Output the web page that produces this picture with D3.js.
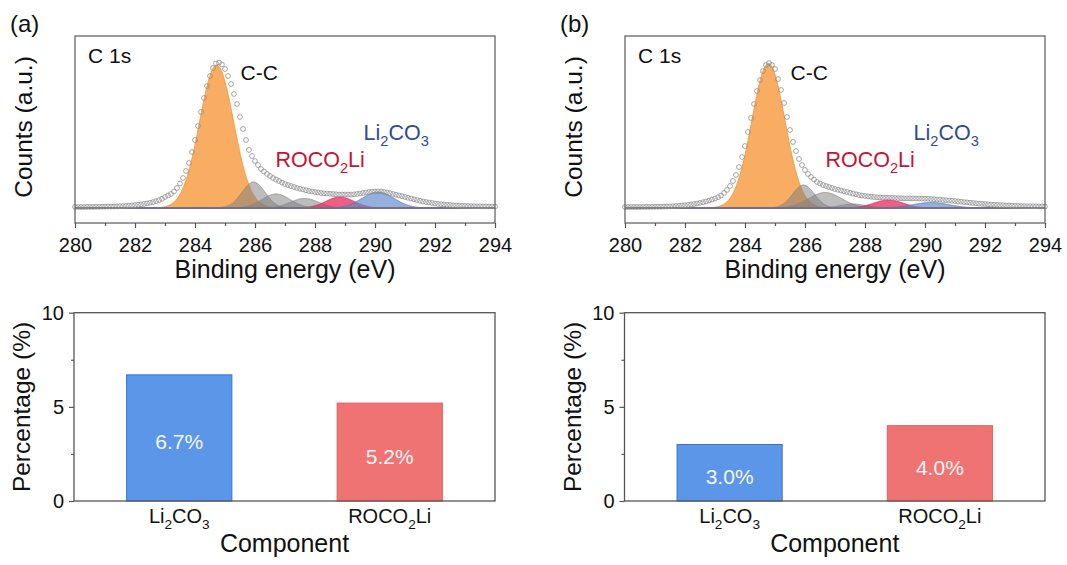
<!DOCTYPE html>
<meta charset="utf-8">
<style>
  body { margin: 0; background: #fff; }
  svg { font-family: "Liberation Sans", Arial, sans-serif; }
</style>
<body>
<div id="chart"></div>
<script src="https://cdn.jsdelivr.net/npm/d3@7"></script>
<script>
  // measured points: binding energy (eV)
  const energy = [
    280.0, 280.1, 280.2, 280.3, 280.4, 280.5, 280.6, 280.7, 280.8, 280.9,
    281.0, 281.1, 281.2, 281.3, 281.4, 281.5, 281.6, 281.7, 281.8, 281.9,
    282.0, 282.1, 282.2, 282.3, 282.4, 282.5, 282.6, 282.7, 282.8, 282.9,
    283.0, 283.1, 283.2, 283.3, 283.4, 283.5, 283.6, 283.7, 283.8, 283.9,
    284.0, 284.1, 284.2, 284.3, 284.4, 284.5, 284.6, 284.7, 284.8, 284.9,
    285.0, 285.1, 285.2, 285.3, 285.4, 285.5, 285.6, 285.7, 285.8, 285.9,
    286.0, 286.1, 286.2, 286.3, 286.4, 286.5, 286.6, 286.7, 286.8, 286.9,
    287.0, 287.1, 287.2, 287.3, 287.4, 287.5, 287.6, 287.7, 287.8, 287.9,
    288.0, 288.1, 288.2, 288.3, 288.4, 288.5, 288.6, 288.7, 288.8, 288.9,
    289.0, 289.1, 289.2, 289.3, 289.4, 289.5, 289.6, 289.7, 289.8, 289.9,
    290.0, 290.1, 290.2, 290.3, 290.4, 290.5, 290.6, 290.7, 290.8, 290.9,
    291.0, 291.1, 291.2, 291.3, 291.4, 291.5, 291.6, 291.7, 291.8, 291.9,
    292.0, 292.1, 292.2, 292.3, 292.4, 292.5, 292.6, 292.7, 292.8, 292.9,
    293.0, 293.1, 293.2, 293.3, 293.4, 293.5, 293.6, 293.7, 293.8, 293.9,
    294.0];

  // counts (a.u.) panel (a)
  const countsA = [
    1.0, 1.0, 1.0, 1.0, 1.1, 1.1, 1.1, 1.2, 1.2, 1.3,
    1.3, 1.4, 1.4, 1.5, 1.6, 1.8, 1.9, 2.1, 2.3, 2.6,
    2.9, 3.2, 3.6, 4.1, 4.6, 5.2, 5.9, 6.8, 7.8, 9.2,
    11.0, 12.5, 14.0, 16.5, 20, 24.5, 30, 37, 45, 56,
    68, 82, 96, 110, 122, 132, 140, 144.5, 145.5, 143.5,
    139, 132, 124, 114, 104, 91, 79, 68, 58, 52,
    47, 43, 39, 36.5, 34, 32, 30, 28.5, 27, 25.5,
    24, 23, 22, 21, 20, 19.2, 18.5, 17.7, 17, 16.5,
    16, 15.5, 15, 14.7, 14.5, 14.2, 14, 13.7, 13.5, 13.5,
    13.5, 13.5, 13.5, 13.7, 14, 14.5, 15, 15.5, 16, 16.3,
    16.5, 16.6, 16.5, 16, 15.5, 14.8, 14, 13.3, 12.5, 11.8,
    11, 10.2, 9.5, 8.7, 8, 7.2, 6.5, 6, 5.5, 5,
    4.5, 4.1, 3.8, 3.5, 3.2, 3.0, 2.8, 2.6, 2.4, 2.2,
    2.1, 2.0, 1.9, 1.8, 1.7, 1.7, 1.6, 1.6, 1.5, 1.5,
    1.5];

  // counts (a.u.) panel (b)
  const countsB = [
    1.0, 1.0, 1.0, 1.0, 1.0, 1.0, 1.1, 1.1, 1.1, 1.2,
    1.2, 1.3, 1.3, 1.4, 1.5, 1.6, 1.8, 2.0, 2.2, 2.5,
    2.8, 3.1, 3.5, 4.0, 4.5, 5.1, 5.8, 6.6, 7.5, 8.4,
    9.5, 10.8, 12.5, 15, 18, 22, 27, 33, 41, 51,
    62, 76, 90, 104, 117, 128, 137, 143, 145, 143,
    139, 129, 118, 105, 91, 78, 66, 57, 49, 43,
    38, 34, 31, 28.5, 26, 24.5, 23, 22, 21, 20,
    19, 18.2, 17.5, 16.7, 16, 15.2, 14.5, 13.7, 13, 12.5,
    12, 11.6, 11.3, 11, 10.8, 10.6, 10.4, 10.3, 10.2, 10.1,
    10, 9.9, 9.8, 9.7, 9.7, 9.6, 9.6, 9.5, 9.5, 9.4,
    9.3, 9.2, 9.0, 8.8, 8.5, 8.3, 8.0, 7.8, 7.5, 7.3,
    7.0, 6.6, 6.3, 5.9, 5.6, 5.3, 5.0, 4.7, 4.4, 4.2,
    4.0, 3.7, 3.5, 3.3, 3.1, 2.9, 2.8, 2.6, 2.5, 2.3,
    2.2, 2.1, 2.0, 1.9, 1.8, 1.8, 1.7, 1.7, 1.6, 1.6,
    1.5];

  // fitted components: centre (eV), height (a.u.), FWHM (eV)
  const components = ['C-C', 'C-O', 'C=O', 'O-C=O', 'ROCO2Li', 'Li2CO3'];
  const centerA = [284.72, 285.95, 286.7, 287.65, 288.83, 290.1];
  const heightA = [143, 26, 14, 9.5, 11, 16];
  const fwhmA = [1.33, 0.9, 1.1, 1.1, 1.1, 1.25];
  const centerB = [284.78, 285.95, 286.67, 287.6, 288.78, 290.2];
  const heightB = [144.5, 23, 15.5, 4, 8, 5.5];
  const fwhmB = [1.3, 0.85, 1.3, 1.0, 1.15, 1.4];

  const energyTicks = [280, 282, 284, 286, 288, 290, 292, 294];
  const energyMinorTicks = [281, 283, 285, 287, 289, 291, 293];

  // component percentages
  const categories = ['Li2CO3', 'ROCO2Li'];
  const percentA = [6.7, 5.2];
  const percentB = [3.0, 4.0];
  const percentTicks = [0, 5, 10];
  const percentMinorTicks = [2.5, 7.5];

  const compStyle = {
    'C-C': { fill: '#f7a24c', stroke: '#f0922f', op: 0.88 },
    'C-O': { fill: '#7c7c7c', stroke: '#8a8a8a', op: 0.5 },
    'C=O': { fill: '#7c7c7c', stroke: '#8a8a8a', op: 0.5 },
    'O-C=O': { fill: '#7c7c7c', stroke: '#8a8a8a', op: 0.5 },
    'ROCO2Li': { fill: '#ea2a5c', stroke: '#e0245a', op: 0.75 },
    'Li2CO3': { fill: '#5b86cc', stroke: '#4d78c4', op: 0.65 }
  };
  const barStyle = {
    'Li2CO3': { fill: '#5b96e8', stroke: '#3d6fd6' },
    'ROCO2Li': { fill: '#f07373', stroke: '#e06262' }
  };
  // chemical names with subscripts
  const chemParts = {
    'Li2CO3': [['Li'], ['2', 1], ['CO'], ['3', 1]],
    'ROCO2Li': [['ROCO'], ['2', 1], ['Li']]
  };

  const svg = d3.select('#chart').append('svg')
      .attr('width', 1067)
      .attr('height', 565);

  function chem(sel, name, size) {
    const drop = size * 0.28;
    let down = false;
    chemParts[name].forEach(p => {
      const t = sel.append('tspan').text(p[0]);
      if (p[1]) {
        t.attr('font-size', size * 0.68).attr('dy', drop);
        down = true;
      } else if (down) {
        t.attr('dy', -drop);
        down = false;
      }
    });
  }

  function gauss(c, h, w, e) {
    return h * Math.exp(-4 * Math.LN2 * (e - c) * (e - c) / (w * w));
  }

  function styleAxis(g, size) {
    g.select('.domain').remove();
    g.selectAll('line').attr('stroke', '#555').attr('stroke-width', 1.2);
    g.selectAll('text').attr('font-size', size).attr('fill', '#111')
        .attr('font-family', '"Liberation Sans", Arial, sans-serif');
  }

  function drawSpectrum(left, tag, counts, center, height, fwhm) {
    const top = 36, bottom = 223, width = 420;
    const x = d3.scaleLinear().domain([280, 294]).range([left, left + width]);
    const y = d3.scaleLinear().domain([-15, 172]).range([bottom, top]);
    const g = svg.append('g');

    // fitted components
    components.forEach((k, i) => {
      const lo = Math.max(280, center[i] - 2.6 * fwhm[i]);
      const hi = Math.min(294, center[i] + 2.6 * fwhm[i]);
      const es = d3.range(lo, hi, 0.01);
      const st = compStyle[k];
      g.append('path').datum(es)
          .attr('d', d3.area().x(e => x(e)).y0(y(0))
              .y1(e => y(gauss(center[i], height[i], fwhm[i], e))))
          .attr('fill', st.fill).attr('fill-opacity', st.op);
      g.append('path').datum(es)
          .attr('d', d3.line().x(e => x(e))
              .y(e => y(gauss(center[i], height[i], fwhm[i], e))))
          .attr('fill', 'none').attr('stroke', st.stroke)
          .attr('stroke-width', 1).attr('stroke-opacity', 0.8);
    });

    // background line
    g.append('line')
        .attr('x1', x(280)).attr('x2', x(294))
        .attr('y1', y(0)).attr('y2', y(0))
        .attr('stroke', '#7a6e84').attr('stroke-width', 1.8);

    // measured points
    g.selectAll('circle.pt').data(energy).enter().append('circle')
        .attr('class', 'pt')
        .attr('cx', e => x(e))
        .attr('cy', (e, i) => y(counts[i]))
        .attr('r', 2.4)
        .attr('fill', 'none')
        .attr('stroke', '#8e8e8e')
        .attr('stroke-width', 0.8);

    // frame
    g.append('rect')
        .attr('x', left).attr('y', top)
        .attr('width', width).attr('height', bottom - top)
        .attr('fill', 'none').attr('stroke', '#666').attr('stroke-width', 1.3);

    const ax = g.append('g').attr('transform', `translate(0,${bottom})`)
        .call(d3.axisBottom(x).tickValues(energyTicks).tickSize(5).tickPadding(10).tickSizeOuter(0));
    styleAxis(ax, 20);
    const axm = g.append('g').attr('transform', `translate(0,${bottom})`)
        .call(d3.axisBottom(x).tickValues(energyMinorTicks).tickSize(3).tickFormat('').tickSizeOuter(0));
    styleAxis(axm, 20);

    g.append('text').attr('x', left + width / 2).attr('y', 278)
        .attr('text-anchor', 'middle').attr('font-size', 25).attr('fill', '#111')
        .text('Binding energy (eV)');
    g.append('text')
        .attr('transform', `translate(${left - 43},127) rotate(-90)`)
        .attr('text-anchor', 'middle').attr('font-size', 24.5).attr('fill', '#111')
        .text('Counts (a.u.)');
    g.append('text').attr('x', left - 65).attr('y', 32)
        .attr('font-size', 24).attr('fill', '#111').text(tag);

    // annotations
    g.append('text').attr('x', left + 13).attr('y', 63)
        .attr('font-size', 21).attr('fill', '#111').text('C 1s');
    g.append('text').attr('x', x(285.52)).attr('y', y(128))
        .attr('font-size', 21).attr('fill', '#111').text('C-C');
    chem(g.append('text').attr('x', x(286.68)).attr('y', y(41.3))
        .attr('font-size', 21.5).attr('fill', '#c41433'), 'ROCO2Li', 21.5);
    chem(g.append('text').attr('x', x(289.62)).attr('y', y(68))
        .attr('font-size', 21.5).attr('fill', '#2f4c8c'), 'Li2CO3', 21.5);
  }

  function drawBars(left, right, tag, values) {
    const top = 312.7, bottom = 501;
    const x = d3.scaleBand().domain(categories).range([left, right])
        .paddingInner(0.5).paddingOuter(0.25);
    const y = d3.scaleLinear().domain([0, 10]).range([bottom, top]);
    const g = svg.append('g');

    g.selectAll('rect.bar').data(categories).enter().append('rect')
        .attr('class', 'bar')
        .attr('x', d => x(d))
        .attr('y', (d, i) => y(values[i]))
        .attr('width', x.bandwidth())
        .attr('height', (d, i) => y(0) - y(values[i]))
        .attr('fill', d => barStyle[d].fill)
        .attr('stroke', d => barStyle[d].stroke)
        .attr('stroke-width', 1);

    g.selectAll('text.val').data(categories).enter().append('text')
        .attr('class', 'val')
        .attr('x', d => x(d) + x.bandwidth() / 2)
        .attr('y', (d, i) => y(values[i] / 2) + 4)
        .attr('dominant-baseline', 'central')
        .attr('text-anchor', 'middle')
        .attr('font-size', 21).attr('fill', '#f6f6f6')
        .text((d, i) => values[i].toFixed(1) + '%');

    g.append('rect')
        .attr('x', left).attr('y', top)
        .attr('width', right - left).attr('height', bottom - top)
        .attr('fill', 'none').attr('stroke', '#555').attr('stroke-width', 1.3);

    const ay = g.append('g').attr('transform', `translate(${left},0)`)
        .call(d3.axisLeft(y).tickValues(percentTicks).tickSize(5).tickPadding(5).tickSizeOuter(0));
    styleAxis(ay, 20);
    const aym = g.append('g').attr('transform', `translate(${left},0)`)
        .call(d3.axisLeft(y).tickValues(percentMinorTicks).tickSize(3).tickFormat('').tickSizeOuter(0));
    styleAxis(aym, 20);

    categories.forEach(c => {
      chem(g.append('text')
          .attr('x', x(c) + x.bandwidth() / 2).attr('y', 523)
          .attr('text-anchor', 'middle')
          .attr('font-size', 20).attr('fill', '#111'), c, 20);
    });

    g.append('text').attr('x', (left + right) / 2).attr('y', 552)
        .attr('text-anchor', 'middle').attr('font-size', 25).attr('fill', '#111')
        .text('Component');
    g.append('text')
        .attr('transform', `translate(${left - 44},407) rotate(-90)`)
        .attr('text-anchor', 'middle').attr('font-size', 24.5).attr('fill', '#111')
        .text('Percentage (%)');
  }

  drawSpectrum(75, '(a)', countsA, centerA, heightA, fwhmA);
  drawSpectrum(625, '(b)', countsB, centerB, heightB, fwhmB);
  drawBars(74, 495, '(a)', percentA);
  drawBars(624.5, 1045, '(b)', percentB);
</script>
